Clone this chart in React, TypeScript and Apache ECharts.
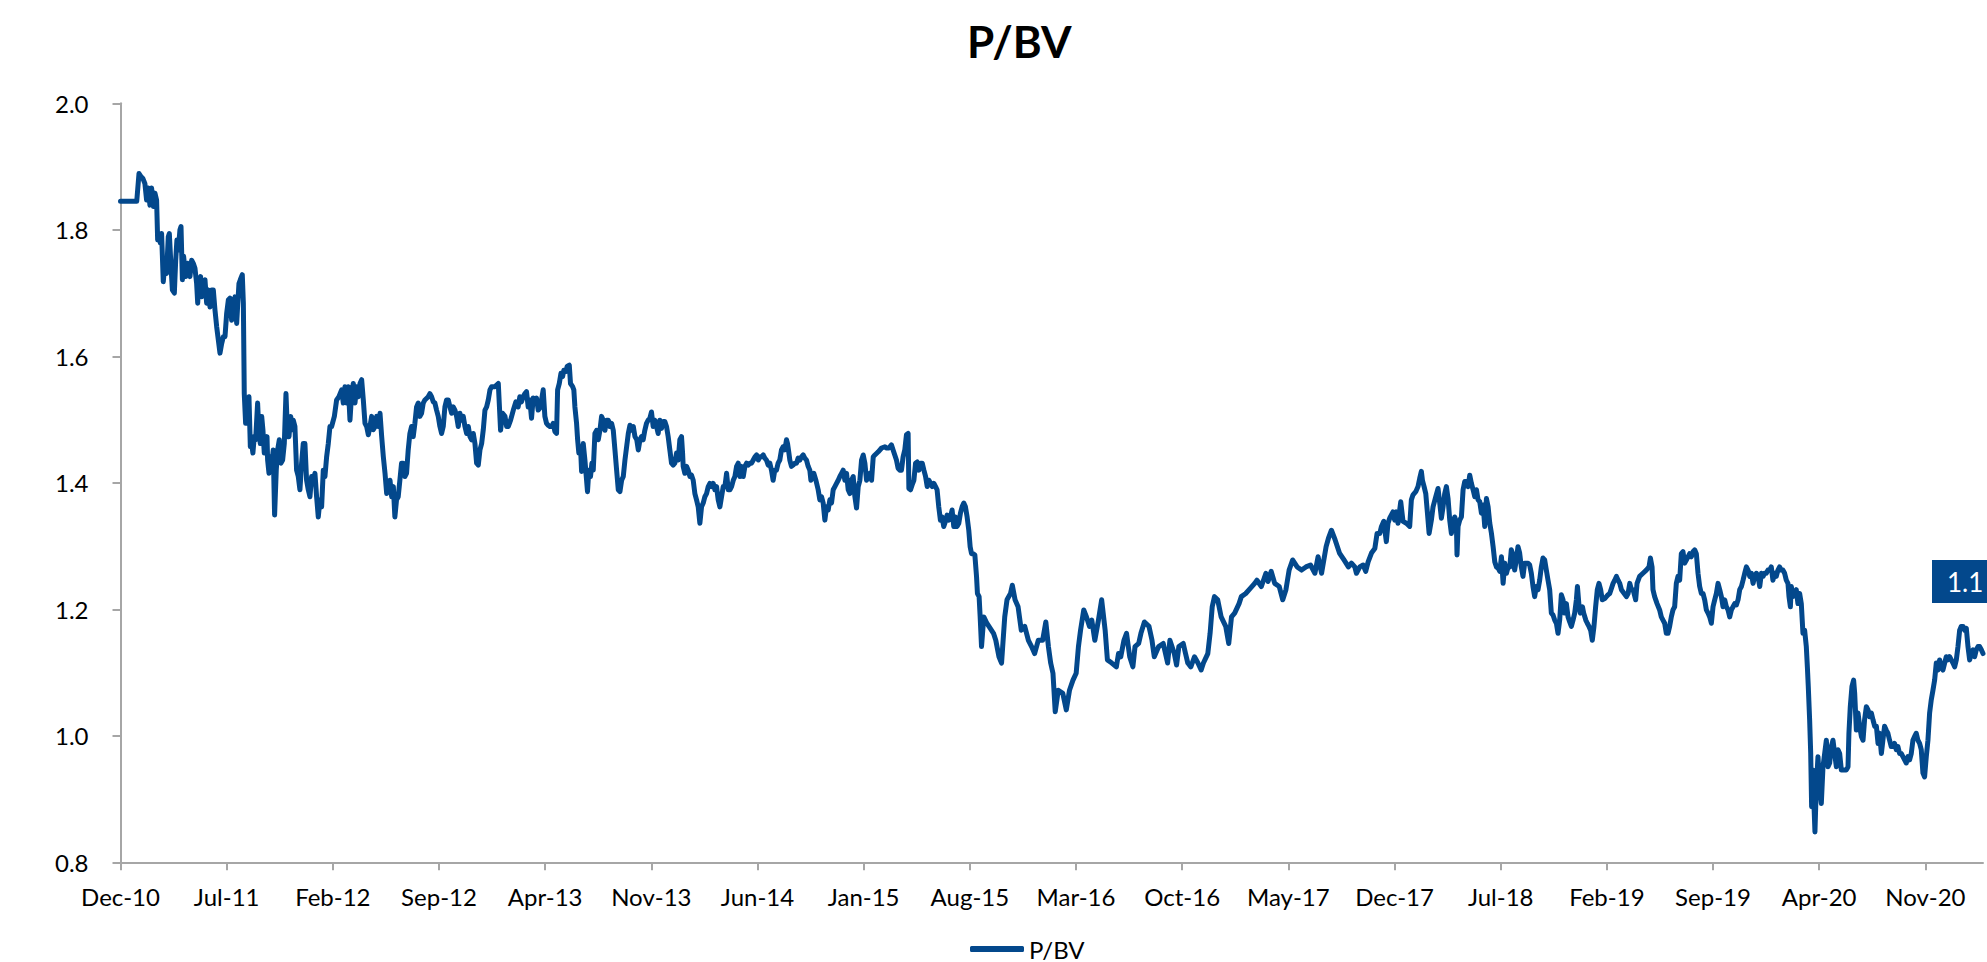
import React, { useEffect, useRef } from "react";
import * as echarts from "echarts";

// x values are months elapsed since Dec-2010; y values are P/BV multiples
const seriesName = "P/BV";
const titleText = "P/BV";
const lastValueLabel = "1.1";

const xTickMonths = [0, 7, 14, 21, 28, 35, 42, 49, 56, 63, 70, 77, 84, 91, 98, 105, 112, 119];
const xTickLabels = [
  "Dec-10", "Jul-11", "Feb-12", "Sep-12", "Apr-13", "Nov-13", "Jun-14", "Jan-15", "Aug-15",
  "Mar-16", "Oct-16", "May-17", "Dec-17", "Jul-18", "Feb-19", "Sep-19", "Apr-20", "Nov-20",
];

const pbvDec10toDec12 = [
  [0, 1.845], [1.07, 1.845], [1.22, 1.889], [1.35, 1.884], [1.48, 1.881], [1.61, 1.873], [1.72, 1.847], [1.83, 1.866],
  [1.94, 1.839], [2.05, 1.866], [2.16, 1.837], [2.27, 1.858], [2.38, 1.847], [2.45, 1.784], [2.54, 1.792], [2.63, 1.779],
  [2.71, 1.794], [2.82, 1.718], [2.93, 1.747], [3.04, 1.731], [3.15, 1.789], [3.22, 1.794], [3.33, 1.742], [3.42, 1.705],
  [3.55, 1.7], [3.64, 1.752], [3.72, 1.784], [3.81, 1.768], [3.92, 1.8], [3.99, 1.805], [4.08, 1.721], [4.16, 1.758],
  [4.3, 1.726], [4.43, 1.747], [4.58, 1.726], [4.69, 1.752], [4.8, 1.747], [4.91, 1.739], [5.02, 1.715], [5.09, 1.684],
  [5.17, 1.721], [5.28, 1.726], [5.35, 1.694], [5.46, 1.715], [5.57, 1.721], [5.68, 1.684], [5.79, 1.705], [5.9, 1.678],
  [6.01, 1.705], [6.12, 1.705], [6.23, 1.673], [6.34, 1.647], [6.45, 1.626], [6.56, 1.605], [6.67, 1.62], [6.78, 1.631],
  [6.89, 1.631], [7.0, 1.668], [7.11, 1.689], [7.22, 1.692], [7.33, 1.657], [7.44, 1.678], [7.55, 1.694], [7.66, 1.652],
  [7.72, 1.678], [7.81, 1.715], [7.9, 1.721], [8.03, 1.729], [8.1, 1.684], [8.16, 1.541], [8.25, 1.494], [8.36, 1.526],
  [8.47, 1.536], [8.56, 1.457], [8.65, 1.462], [8.73, 1.447], [8.82, 1.473], [8.91, 1.468], [9.04, 1.526], [9.13, 1.478],
  [9.22, 1.462], [9.31, 1.505], [9.39, 1.484], [9.48, 1.447], [9.57, 1.452], [9.66, 1.473], [9.7, 1.436], [9.79, 1.415],
  [9.88, 1.441], [9.96, 1.426], [10.07, 1.452], [10.16, 1.349], [10.27, 1.42], [10.36, 1.452], [10.47, 1.468], [10.58, 1.431],
  [10.69, 1.436], [10.8, 1.462], [10.91, 1.541], [11.02, 1.473], [11.11, 1.473], [11.22, 1.505], [11.33, 1.484], [11.39, 1.499],
  [11.5, 1.489], [11.61, 1.42], [11.72, 1.41], [11.83, 1.389], [11.94, 1.431], [12.05, 1.462], [12.16, 1.462], [12.27, 1.404],
  [12.38, 1.389], [12.49, 1.378], [12.6, 1.41], [12.71, 1.404], [12.82, 1.415], [12.93, 1.378], [13.04, 1.346], [13.15, 1.373],
  [13.26, 1.362], [13.37, 1.42], [13.48, 1.41], [13.59, 1.441], [13.7, 1.462], [13.81, 1.489], [13.92, 1.489], [14.1, 1.505],
  [14.25, 1.531], [14.4, 1.536], [14.58, 1.547], [14.69, 1.526], [14.8, 1.552], [14.91, 1.526], [15.02, 1.552], [15.13, 1.499],
  [15.24, 1.541], [15.35, 1.557], [15.46, 1.526], [15.57, 1.552], [15.68, 1.536], [15.79, 1.557], [15.9, 1.563], [16.01, 1.531],
  [16.12, 1.494], [16.23, 1.489], [16.34, 1.476], [16.45, 1.489], [16.56, 1.505], [16.67, 1.484], [16.78, 1.489], [16.89, 1.505],
  [17.0, 1.489], [17.11, 1.51], [17.22, 1.473], [17.33, 1.441], [17.44, 1.415], [17.55, 1.383], [17.66, 1.389], [17.77, 1.404],
  [17.88, 1.378], [17.99, 1.394], [18.09, 1.346], [18.2, 1.373], [18.31, 1.378], [18.42, 1.404], [18.53, 1.431], [18.64, 1.431],
  [18.75, 1.41], [18.86, 1.415], [18.97, 1.452], [19.08, 1.478], [19.19, 1.489], [19.3, 1.473], [19.41, 1.494], [19.52, 1.52],
  [19.63, 1.526], [19.74, 1.505], [19.85, 1.51], [19.96, 1.526], [20.07, 1.531], [20.29, 1.536], [20.4, 1.541], [20.51, 1.536],
  [20.62, 1.528], [20.73, 1.526], [20.84, 1.515], [20.95, 1.505], [21.06, 1.489], [21.17, 1.478], [21.28, 1.489], [21.39, 1.52],
  [21.5, 1.531], [21.61, 1.531], [21.72, 1.52], [21.83, 1.51], [21.94, 1.52], [22.05, 1.515], [22.16, 1.505], [22.27, 1.489],
  [22.38, 1.51], [22.49, 1.499], [22.6, 1.505], [22.71, 1.489], [22.82, 1.478], [22.93, 1.489], [23.04, 1.473], [23.15, 1.468],
  [23.26, 1.478], [23.37, 1.462], [23.48, 1.431], [23.59, 1.428], [23.7, 1.452], [23.81, 1.462], [23.92, 1.484], [24.03, 1.515],
  [24.14, 1.52], [24.25, 1.531], [24.36, 1.547], [24.47, 1.552], [24.69, 1.552], [24.91, 1.557],
];

const pbvJan13toJan15 = [
  [25.06, 1.483], [25.19, 1.51], [25.35, 1.505], [25.46, 1.489], [25.57, 1.489], [25.72, 1.499], [25.9, 1.515], [26.07, 1.528],
  [26.22, 1.52], [26.33, 1.536], [26.44, 1.528], [26.55, 1.536], [26.66, 1.541], [26.77, 1.544], [26.88, 1.52], [26.99, 1.531],
  [27.1, 1.502], [27.21, 1.534], [27.32, 1.526], [27.43, 1.534], [27.54, 1.515], [27.65, 1.518], [27.76, 1.531], [27.87, 1.547],
  [27.98, 1.505], [28.09, 1.494], [28.2, 1.491], [28.31, 1.489], [28.42, 1.489], [28.53, 1.494], [28.64, 1.481], [28.75, 1.478],
  [28.82, 1.547], [28.93, 1.557], [29.04, 1.573], [29.15, 1.568], [29.23, 1.578], [29.37, 1.576], [29.45, 1.584], [29.59, 1.586],
  [29.67, 1.557], [29.81, 1.552], [29.89, 1.547], [29.96, 1.52], [30.07, 1.494], [30.14, 1.468], [30.22, 1.447], [30.33, 1.457],
  [30.4, 1.418], [30.51, 1.462], [30.62, 1.436], [30.73, 1.404], [30.79, 1.386], [30.88, 1.42], [30.99, 1.41], [31.08, 1.431],
  [31.17, 1.42], [31.28, 1.478], [31.39, 1.483], [31.5, 1.468], [31.61, 1.483], [31.72, 1.505], [31.83, 1.499], [31.94, 1.483],
  [32.05, 1.499], [32.16, 1.499], [32.27, 1.489], [32.38, 1.494], [32.49, 1.483], [32.6, 1.452], [32.71, 1.42], [32.82, 1.389],
  [32.93, 1.386], [33.04, 1.404], [33.15, 1.41], [33.26, 1.436], [33.37, 1.457], [33.48, 1.478], [33.59, 1.491], [33.7, 1.483],
  [33.81, 1.489], [33.92, 1.473], [34.04, 1.468], [34.14, 1.452], [34.25, 1.468], [34.35, 1.473], [34.46, 1.468], [34.57, 1.483],
  [34.68, 1.494], [34.79, 1.499], [34.9, 1.502], [35.01, 1.512], [35.12, 1.489], [35.23, 1.499], [35.34, 1.489], [35.45, 1.478],
  [35.56, 1.499], [35.67, 1.486], [35.78, 1.497], [35.89, 1.497], [36.0, 1.489], [36.11, 1.473], [36.22, 1.452], [36.33, 1.431],
  [36.44, 1.428], [36.55, 1.431], [36.66, 1.447], [36.77, 1.436], [36.88, 1.468], [36.99, 1.473], [37.06, 1.447], [37.1, 1.426],
  [37.21, 1.415], [37.32, 1.426], [37.43, 1.42], [37.54, 1.41], [37.65, 1.412], [37.76, 1.404], [37.87, 1.383], [37.98, 1.373],
  [38.09, 1.362], [38.2, 1.336], [38.31, 1.362], [38.42, 1.368], [38.53, 1.378], [38.64, 1.383], [38.75, 1.394], [38.86, 1.399],
  [38.97, 1.394], [39.08, 1.399], [39.19, 1.389], [39.3, 1.394], [39.41, 1.373], [39.52, 1.362], [39.63, 1.378], [39.74, 1.394],
  [39.85, 1.394], [39.96, 1.415], [40.07, 1.389], [40.18, 1.389], [40.29, 1.394], [40.4, 1.404], [40.51, 1.41], [40.62, 1.426],
  [40.73, 1.431], [40.84, 1.41], [40.95, 1.426], [41.06, 1.41], [41.17, 1.426], [41.28, 1.431], [41.39, 1.428], [41.5, 1.431],
  [41.61, 1.431], [41.72, 1.436], [41.83, 1.441], [41.94, 1.444], [42.05, 1.436], [42.16, 1.441], [42.27, 1.441], [42.38, 1.444],
  [42.48, 1.439], [42.59, 1.436], [42.7, 1.428], [42.81, 1.431], [42.92, 1.42], [43.03, 1.404], [43.14, 1.42], [43.25, 1.42],
  [43.36, 1.431], [43.47, 1.436], [43.58, 1.452], [43.69, 1.457], [43.8, 1.452], [43.91, 1.468], [43.98, 1.462], [44.07, 1.447],
  [44.13, 1.436], [44.24, 1.426], [44.35, 1.428], [44.46, 1.431], [44.57, 1.431], [44.68, 1.439], [44.79, 1.436], [44.9, 1.441],
  [45.01, 1.444], [45.12, 1.439], [45.23, 1.436], [45.34, 1.426], [45.45, 1.42], [45.52, 1.404], [45.63, 1.41], [45.71, 1.415],
  [45.85, 1.404], [46.0, 1.389], [46.11, 1.373], [46.22, 1.378], [46.33, 1.368], [46.44, 1.341], [46.55, 1.362], [46.66, 1.357],
  [46.77, 1.373], [46.88, 1.368], [46.99, 1.389], [47.1, 1.394], [47.21, 1.399], [47.32, 1.404], [47.43, 1.41], [47.54, 1.415],
  [47.65, 1.42], [47.76, 1.404], [47.87, 1.415], [47.98, 1.389], [48.09, 1.383], [48.2, 1.404], [48.31, 1.41], [48.42, 1.378],
  [48.53, 1.36], [48.64, 1.394], [48.75, 1.404], [48.86, 1.436], [48.97, 1.444], [49.08, 1.431], [49.19, 1.404], [49.3, 1.41],
  [49.41, 1.415], [49.52, 1.404], [49.63, 1.441],
];

const pbvJan15toAug15 = [
  [49.74, 1.444], [49.96, 1.449], [50.18, 1.455], [50.4, 1.457], [50.51, 1.455], [50.66, 1.455], [50.83, 1.46], [50.94, 1.452],
  [51.05, 1.444], [51.16, 1.436], [51.27, 1.423], [51.38, 1.42], [51.49, 1.42], [51.6, 1.441], [51.71, 1.452], [51.82, 1.476],
  [51.93, 1.478], [51.98, 1.391], [52.09, 1.389], [52.2, 1.397], [52.31, 1.404], [52.42, 1.431], [52.53, 1.433], [52.64, 1.42],
  [52.75, 1.431], [52.86, 1.431], [52.97, 1.42], [53.08, 1.41], [53.19, 1.394], [53.3, 1.404], [53.41, 1.399], [53.52, 1.394],
  [53.63, 1.399], [53.74, 1.394], [53.84, 1.389], [53.95, 1.362], [54.06, 1.341], [54.17, 1.346], [54.28, 1.331], [54.39, 1.339],
  [54.5, 1.349], [54.61, 1.341], [54.72, 1.346], [54.83, 1.357], [54.94, 1.331], [55.05, 1.346], [55.16, 1.331], [55.27, 1.336],
  [55.38, 1.352], [55.49, 1.362], [55.6, 1.368], [55.71, 1.362], [55.82, 1.346], [55.93, 1.325], [56.02, 1.299], [56.11, 1.288],
  [56.22, 1.288], [56.33, 1.286], [56.44, 1.252], [56.5, 1.225], [56.61, 1.22], [56.68, 1.188], [56.77, 1.141],
];

const pbvSep15toSep17 = [
  [56.92, 1.188], [57.12, 1.178], [57.42, 1.167], [57.56, 1.162], [57.71, 1.151], [57.92, 1.125], [58.09, 1.115], [58.3, 1.188],
  [58.45, 1.215], [58.68, 1.225], [58.8, 1.238], [58.98, 1.215], [59.18, 1.204], [59.39, 1.167], [59.62, 1.173], [59.86, 1.151],
  [60.07, 1.141], [60.27, 1.13], [60.51, 1.151], [60.8, 1.151], [61.01, 1.18], [61.18, 1.141], [61.33, 1.115], [61.48, 1.099],
  [61.63, 1.038], [61.83, 1.072], [62.13, 1.067], [62.36, 1.041], [62.57, 1.072], [62.8, 1.088], [63.01, 1.099], [63.16, 1.141],
  [63.3, 1.167], [63.51, 1.199], [63.69, 1.188], [63.89, 1.173], [64.04, 1.183], [64.24, 1.151], [64.48, 1.183], [64.69, 1.215],
  [64.92, 1.167], [65.07, 1.12], [65.36, 1.115], [65.66, 1.109], [65.8, 1.13], [65.95, 1.125], [66.16, 1.151], [66.33, 1.162],
  [66.54, 1.125], [66.75, 1.109], [66.89, 1.141], [67.13, 1.146], [67.28, 1.162], [67.51, 1.18], [67.81, 1.173], [68.01, 1.151],
  [68.16, 1.125], [68.45, 1.141], [68.75, 1.146], [69.04, 1.115], [69.19, 1.151], [69.48, 1.13], [69.63, 1.112], [69.78, 1.141],
  [70.07, 1.146], [70.22, 1.13], [70.37, 1.115], [70.57, 1.109], [70.81, 1.125], [71.04, 1.115], [71.25, 1.104], [71.4, 1.115],
  [71.69, 1.13], [71.84, 1.162], [71.98, 1.204], [72.13, 1.22], [72.34, 1.215], [72.57, 1.188], [72.87, 1.173], [73.07, 1.146],
  [73.25, 1.188], [73.46, 1.194], [73.75, 1.209], [73.9, 1.22], [74.19, 1.225], [74.49, 1.233], [74.78, 1.241], [74.93, 1.246],
  [75.22, 1.236], [75.52, 1.257], [75.66, 1.244], [75.87, 1.26], [76.1, 1.241], [76.4, 1.236], [76.63, 1.215], [76.84, 1.231],
  [77.05, 1.262], [77.28, 1.278], [77.58, 1.267], [77.87, 1.262], [78.16, 1.267], [78.46, 1.27], [78.75, 1.257], [78.96, 1.283],
  [79.19, 1.257], [79.49, 1.299], [79.64, 1.312], [79.84, 1.325], [80.08, 1.31], [80.37, 1.289], [80.67, 1.278], [80.96, 1.267],
];

const pbvSep17toMar19 = [
  [81.16, 1.273], [81.38, 1.267], [81.49, 1.257], [81.71, 1.267], [81.93, 1.27], [82.1, 1.26], [82.26, 1.275], [82.48, 1.289],
  [82.7, 1.296], [82.85, 1.32], [83.03, 1.32], [83.14, 1.331], [83.29, 1.339], [83.46, 1.307], [83.57, 1.336], [83.68, 1.344],
  [83.9, 1.354], [84.01, 1.341], [84.12, 1.354], [84.23, 1.336], [84.41, 1.37], [84.56, 1.339], [84.78, 1.336], [85.0, 1.331],
  [85.11, 1.373], [85.22, 1.381], [85.4, 1.386], [85.55, 1.394], [85.66, 1.407], [85.77, 1.418], [85.84, 1.404], [85.95, 1.394],
  [86.06, 1.383], [86.17, 1.352], [86.28, 1.32], [86.43, 1.341], [86.54, 1.362], [86.72, 1.378], [86.87, 1.391], [86.98, 1.368],
  [87.09, 1.344], [87.2, 1.362], [87.31, 1.383], [87.42, 1.394], [87.53, 1.375], [87.64, 1.341], [87.75, 1.32], [87.86, 1.336],
  [87.97, 1.346], [88.08, 1.336], [88.12, 1.286], [88.19, 1.331], [88.3, 1.341], [88.41, 1.346], [88.52, 1.389], [88.63, 1.402],
  [88.74, 1.402], [88.85, 1.394], [88.96, 1.412], [89.07, 1.399], [89.18, 1.389], [89.29, 1.378], [89.4, 1.389], [89.51, 1.373],
  [89.62, 1.37], [89.73, 1.352], [89.84, 1.365], [89.95, 1.331], [90.06, 1.375], [90.17, 1.362], [90.28, 1.336], [90.39, 1.32],
  [90.5, 1.299], [90.61, 1.275], [90.72, 1.267], [90.83, 1.265], [90.94, 1.26], [91.05, 1.283], [91.16, 1.241], [91.27, 1.273],
  [91.38, 1.257], [91.49, 1.267], [91.6, 1.267], [91.7, 1.294], [91.81, 1.286], [91.92, 1.262], [92.03, 1.278], [92.14, 1.299],
  [92.25, 1.289], [92.36, 1.267], [92.47, 1.252], [92.58, 1.273], [92.69, 1.273], [92.8, 1.273], [92.91, 1.27], [93.02, 1.257],
  [93.13, 1.236], [93.24, 1.22], [93.35, 1.236], [93.46, 1.231], [93.57, 1.246], [93.68, 1.267], [93.79, 1.281], [93.9, 1.278],
  [94.01, 1.262], [94.12, 1.246], [94.23, 1.231], [94.34, 1.194], [94.45, 1.191], [94.56, 1.183], [94.67, 1.178], [94.78, 1.162],
  [94.89, 1.183], [95.0, 1.223], [95.11, 1.215], [95.22, 1.194], [95.33, 1.209], [95.44, 1.188], [95.55, 1.18], [95.66, 1.173],
  [95.77, 1.183], [95.88, 1.194], [95.99, 1.215], [96.06, 1.236], [96.17, 1.204], [96.25, 1.194], [96.39, 1.204], [96.47, 1.194],
  [96.61, 1.183], [96.71, 1.178], [96.82, 1.173], [96.93, 1.167], [97.04, 1.151], [97.15, 1.173], [97.26, 1.204], [97.37, 1.231],
  [97.48, 1.241], [97.59, 1.231], [97.7, 1.215], [97.86, 1.217], [97.97, 1.22], [98.08, 1.223], [98.19, 1.225], [98.3, 1.233],
  [98.41, 1.241], [98.52, 1.246], [98.63, 1.252], [98.74, 1.246], [98.85, 1.241], [98.96, 1.231],
];

const pbvMar19toFeb21 = [
  [99.29, 1.22], [99.4, 1.225], [99.51, 1.241], [99.62, 1.231], [99.73, 1.231], [99.9, 1.215], [99.99, 1.241], [100.16, 1.252],
  [100.38, 1.257], [100.6, 1.262], [100.78, 1.267], [100.87, 1.281], [100.98, 1.267], [101.04, 1.231], [101.15, 1.22], [101.31, 1.209],
  [101.48, 1.199], [101.59, 1.188], [101.7, 1.183], [101.81, 1.178], [101.92, 1.162], [102.03, 1.162], [102.14, 1.173], [102.25, 1.188],
  [102.36, 1.199], [102.47, 1.204], [102.58, 1.241], [102.69, 1.252], [102.8, 1.246], [102.91, 1.288], [103.02, 1.291], [103.13, 1.273],
  [103.24, 1.278], [103.35, 1.283], [103.46, 1.288], [103.57, 1.283], [103.68, 1.291], [103.79, 1.294], [103.9, 1.288], [104.01, 1.257],
  [104.12, 1.236], [104.23, 1.225], [104.34, 1.225], [104.45, 1.215], [104.56, 1.199], [104.67, 1.194], [104.78, 1.188], [104.89, 1.178],
  [105.0, 1.204], [105.11, 1.215], [105.22, 1.225], [105.33, 1.241], [105.44, 1.231], [105.55, 1.22], [105.66, 1.204], [105.77, 1.215],
  [105.88, 1.204], [105.99, 1.199], [106.1, 1.188], [106.21, 1.199], [106.32, 1.204], [106.43, 1.209], [106.54, 1.207], [106.65, 1.215],
  [106.76, 1.231], [106.87, 1.236], [106.98, 1.246], [107.09, 1.257], [107.2, 1.267], [107.31, 1.262], [107.42, 1.252], [107.53, 1.257],
  [107.64, 1.241], [107.75, 1.252], [107.86, 1.257], [107.97, 1.252], [108.08, 1.236], [108.19, 1.257], [108.3, 1.252], [108.4, 1.257],
  [108.51, 1.257], [108.62, 1.262], [108.73, 1.262], [108.84, 1.267], [108.95, 1.246], [109.06, 1.257], [109.17, 1.252], [109.28, 1.262],
  [109.39, 1.267], [109.5, 1.262], [109.61, 1.262], [109.72, 1.257], [109.83, 1.246], [109.94, 1.241], [110.01, 1.22], [110.1, 1.204],
  [110.16, 1.236], [110.27, 1.22], [110.38, 1.225], [110.49, 1.231], [110.6, 1.209], [110.71, 1.225], [110.82, 1.209], [110.93, 1.162],
  [111.04, 1.167], [111.15, 1.141], [111.22, 1.109], [111.28, 1.078], [111.37, 1.025], [111.44, 0.972], [111.5, 0.888], [111.59, 0.946],
  [111.66, 0.888], [111.72, 0.848], [111.81, 0.92], [111.92, 0.967], [112.03, 0.92], [112.14, 0.893], [112.25, 0.951], [112.36, 0.972],
  [112.47, 0.993], [112.58, 0.951], [112.69, 0.957], [112.8, 0.983], [112.91, 0.993], [113.02, 0.972], [113.13, 0.951], [113.24, 0.978],
  [113.35, 0.972], [113.46, 0.946], [113.57, 0.946], [113.68, 0.946], [113.79, 0.946], [113.9, 0.951], [113.96, 1.004], [114.05, 1.046],
  [114.16, 1.078], [114.27, 1.088], [114.34, 1.067], [114.45, 1.009], [114.56, 1.036], [114.67, 1.015], [114.78, 0.999], [114.89, 0.993],
  [114.99, 1.025], [115.11, 1.046], [115.22, 1.041], [115.33, 1.03], [115.44, 1.036], [115.55, 1.025], [115.66, 1.015], [115.77, 1.015],
  [115.88, 0.988], [115.98, 1.004], [116.1, 0.972], [116.2, 0.993], [116.31, 1.015], [116.42, 1.009], [116.53, 1.004], [116.64, 0.993],
  [116.75, 0.983], [116.86, 0.983], [116.97, 0.988], [117.08, 0.978], [117.19, 0.983], [117.3, 0.972], [117.41, 0.972], [117.52, 0.967],
  [117.63, 0.962], [117.74, 0.957], [117.85, 0.967], [117.96, 0.962], [118.07, 0.972], [118.18, 0.993], [118.29, 0.999], [118.4, 1.004],
  [118.51, 0.993], [118.62, 0.988], [118.73, 0.978], [118.84, 0.941], [118.95, 0.935], [119.06, 0.967], [119.17, 0.993], [119.28, 1.036],
  [119.39, 1.057], [119.5, 1.072], [119.61, 1.088], [119.72, 1.115], [119.83, 1.104], [119.94, 1.12], [120.05, 1.109], [120.16, 1.104],
  [120.27, 1.115], [120.38, 1.125], [120.49, 1.12], [120.6, 1.125], [120.71, 1.12], [120.82, 1.115], [120.93, 1.109], [121.04, 1.12],
  [121.15, 1.141], [121.26, 1.167], [121.37, 1.173], [121.48, 1.173], [121.59, 1.167], [121.7, 1.17], [121.81, 1.141], [121.92, 1.12],
  [122.03, 1.13], [122.14, 1.136], [122.25, 1.125], [122.36, 1.136], [122.47, 1.141], [122.58, 1.141], [122.69, 1.136], [122.8, 1.13],
];

const yMin = 0.8;
const yMax = 2.0;
const yStep = 0.2;
const xMax = 122.8;

const LINE_COLOR = "#03488C";
const AXIS_COLOR = "#A6A6A6";
const FONT = "Lato, 'Liberation Sans', sans-serif";

export default function App() {
  const ref = useRef<HTMLDivElement>(null);

  useEffect(() => {
    if (!ref.current) return;
    const chart = echarts.init(ref.current, undefined, { renderer: "svg" });
    const data = [
      ...pbvDec10toDec12,
      ...pbvJan13toJan15,
      ...pbvJan15toAug15,
      ...pbvSep15toSep17,
      ...pbvSep17toMar19,
      ...pbvMar19toFeb21,
    ];
    const option: any = {
      animation: false,
      backgroundColor: "#ffffff",
      title: {
        text: titleText,
        left: 962,
        top: 14,
        textStyle: { fontFamily: FONT, fontSize: 44, fontWeight: "bold", color: "#000000" },
      },
      legend: {
        data: [seriesName],
        left: 970,
        top: 936,
        padding: 0,
        itemWidth: 54,
        itemHeight: 6,
        icon: "roundRect",
        itemGap: 10,
        textStyle: { fontFamily: FONT, fontSize: 24, color: "#000000", lineHeight: 26 },
      },
      grid: { left: 120.5, right: 4, top: 103.3, bottom: 99.7, containLabel: false },
      xAxis: {
        type: "value",
        min: 0,
        max: xMax,
        interval: 7,
        splitLine: { show: false },
        axisLine: { show: true, onZero: false, lineStyle: { color: AXIS_COLOR, width: 2 } },
        axisTick: {
          show: true,
          length: 8,
          customValues: xTickMonths,
          lineStyle: { color: AXIS_COLOR, width: 2 },
        },
        axisLabel: {
          customValues: xTickMonths,
          formatter: (v: number) => {
            const i = xTickMonths.indexOf(Math.round(v));
            return i >= 0 ? xTickLabels[i] : "";
          },
          fontFamily: FONT,
          fontSize: 24,
          color: "#000000",
          margin: 22,
        },
      },
      yAxis: {
        type: "value",
        min: yMin,
        max: yMax,
        interval: yStep,
        splitLine: { show: false },
        axisLine: { show: true, lineStyle: { color: AXIS_COLOR, width: 2 } },
        axisTick: { show: true, length: 8, lineStyle: { color: AXIS_COLOR, width: 2 } },
        axisLabel: {
          formatter: (v: number) => v.toFixed(1),
          fontFamily: FONT,
          fontSize: 24,
          color: "#000000",
          margin: 32,
        },
      },
      series: [
        {
          name: seriesName,
          type: "line",
          data,
          showSymbol: false,
          symbol: "none",
          color: LINE_COLOR,
          lineStyle: { color: LINE_COLOR, width: 5, join: "round", cap: "round" },
          itemStyle: { color: LINE_COLOR },
          emphasis: { disabled: true },
          z: 3,
        },
      ],
      graphic: [
        {
          type: "group",
          children: [
            {
              type: "rect",
              shape: { x: 1932, y: 560, width: 70, height: 43 },
              style: { fill: LINE_COLOR },
            },
            {
              type: "text",
              x: 1947,
              y: 582,
              style: {
                text: lastValueLabel,
                fill: "#ffffff",
                fontSize: 26,
                fontFamily: FONT,
                verticalAlign: "middle",
              },
            },
          ],
        },
      ],
    };
    chart.setOption(option);
    return () => chart.dispose();
  }, []);

  return (
    <div
      ref={ref}
      style={{ position: "fixed", left: 0, top: 0, width: 1987, height: 962, background: "#fff" }}
    />
  );
}
